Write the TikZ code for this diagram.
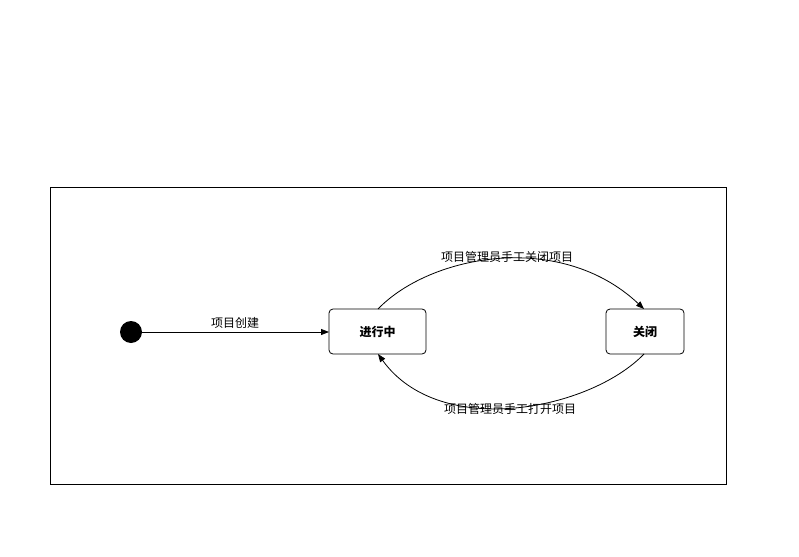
\documentclass[tikz,border=0pt]{standalone}
\usepackage{fontspec}
\setmainfont{Noto Sans CJK SC}
\usetikzlibrary{arrows.meta}
\begin{document}
\begin{tikzpicture}[x=1pt,y=-1pt,
  state/.style={draw,rounded corners=4pt,line width=0.8pt,inner sep=0pt,font=\fontsize{12}{14}\selectfont\bfseries},
  lbl/.style={font=\fontsize{12}{14}\selectfont,inner sep=1pt},
  arr/.style={line width=0.8pt,-{Triangle[length=8pt,width=6pt]}}]
\useasboundingbox (0,0) rectangle (799,556);
\draw[line width=0.8pt] (50,187) rectangle (726,484);
\node[circle,fill=black,minimum size=22pt,inner sep=0pt] (init) at (131,332) {};
\node[state,minimum width=97pt,minimum height=45pt] (run) at (377.5,331.5) {进行中};
\node[state,minimum width=78pt,minimum height=45pt] (closed) at (645,331.5) {关闭};
\coordinate (runin) at (329,332);
\draw[arr] (init) -- (runin);
\node[lbl] (l1) at (235,323) {项目创建};
\coordinate (rt) at (378,309);
\coordinate (ct) at (644,309);
\coordinate (rb) at (378,354);
\coordinate (cb) at (644,354);
\draw[arr] (rt) .. controls (430,255) and (560,230) .. (ct);
\draw[arr] (cb) .. controls (590,410) and (440,440) .. (rb);
\node[lbl] (l2) at (507,257) {项目管理员手工关闭项目};
\node[lbl] (l3) at (510,409) {项目管理员手工打开项目};
\end{tikzpicture}
\end{document}
